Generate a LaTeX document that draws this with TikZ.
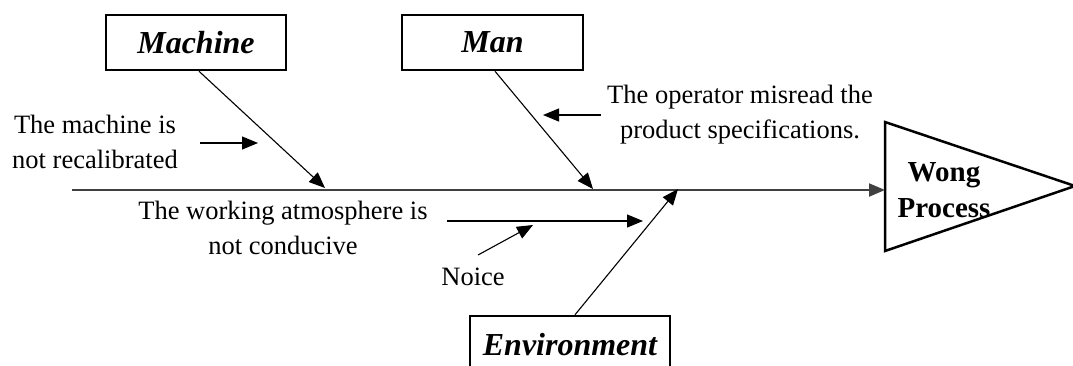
\documentclass[tikz,border=0pt]{standalone}
\usepackage{fontspec}
\setmainfont{Liberation Serif}
\usetikzlibrary{arrows.meta}
\tikzset{
  cause/.style={draw, line width=2.5pt, inner sep=0pt, font=\fontsize{32}{36}\selectfont\bfseries\itshape},
  note/.style={align=center, inner sep=0pt, font=\fontsize{26.5}{35}\selectfont},
  arr/.style={line width=1.1pt, -{Triangle[length=16pt,width=13pt]}},
  spine/.style={line width=2pt, draw=black!75, -{Triangle[length=16pt,width=13pt]}}
}
\begin{document}
\begin{tikzpicture}[x=1pt,y=-1pt]
\useasboundingbox (0,0) rectangle (1073,365);

% effect head
\draw[line width=2.5pt, line join=miter] (885,122) -- (885,251) -- (1075,186) -- cycle;
\coordinate (head) at (885,190);
\node[font=\fontsize{29}{36}\selectfont\bfseries, align=center, inner sep=0pt] (effect) at (944,190) {Wong\\Process};

% spine
\coordinate (tail) at (72,190);
\draw[spine] (tail) -- (head);

% category boxes
\node[cause, minimum width=180pt, minimum height=55pt] (machine) at (196,42.5) {Machine};
\node[cause, minimum width=181pt, minimum height=55pt] (man) at (492.5,42.5) {Man};
\node[cause, minimum width=200pt, minimum height=58pt] (env) at (570,345) {Environment};

% bones
\coordinate (mtip) at (325,188);
\coordinate (ntip) at (593,189);
\coordinate (etip) at (678,189);
\draw[arr] ([xshift=3pt]machine.south) -- (mtip);
\draw[arr] ([xshift=2.5pt]man.south) -- (ntip);
\draw[arr] ([xshift=5pt]env.north) -- (etip);

% causes
\node[note] (c1) at (95,142) {The machine is\\not recalibrated};
\coordinate (c1a) at (200,143);
\coordinate (c1b) at (258,143);
\draw[arr] (c1a) -- (c1b);

\node[note] (c2) at (740,115) {The operator misread the\\product specifications.};
\coordinate (c2a) at (601,115);
\coordinate (c2b) at (543,115);
\draw[arr] (c2a) -- (c2b);

\node[note] (c3) at (283,228) {The working atmosphere is\\not conducive};
\coordinate (c3a) at (447,221);
\coordinate (c3b) at (643,221);
\draw[arr] (c3a) -- (c3b);

\node[note] (c4) at (473,277) {Noice};
\coordinate (c4a) at (478,255);
\coordinate (c4b) at (533,225);
\draw[arr] (c4a) -- (c4b);
\end{tikzpicture}
\end{document}
